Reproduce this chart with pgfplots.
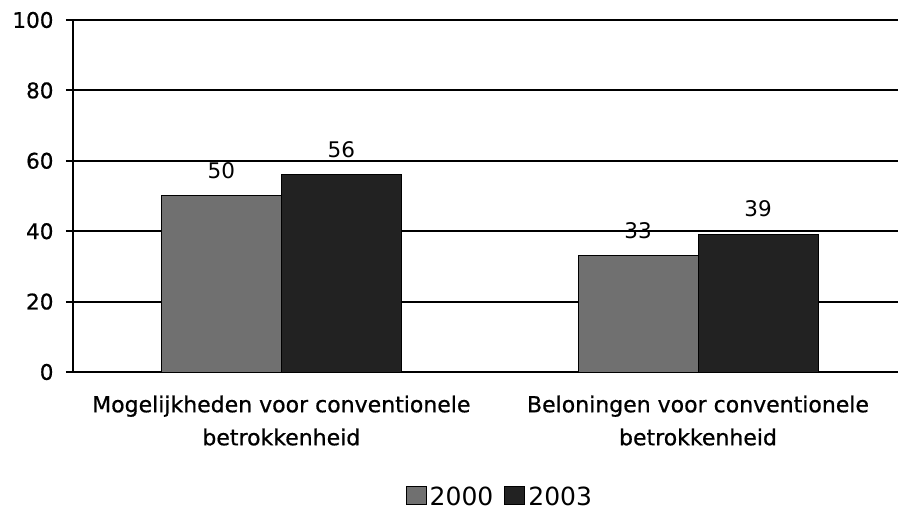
\documentclass[border=0pt]{standalone}
\usepackage{fontspec}
\setmainfont{DejaVu Sans}
\newfontfamily\semib[FakeBold=0.7]{DejaVu Sans}
\usepackage{pgfplots}
\pgfplotsset{compat=1.18}
\definecolor{c2000}{HTML}{707070}
\definecolor{c2003}{HTML}{222222}
\begin{document}
\begin{tikzpicture}
\path[use as bounding box] (0,0) rectangle (898bp,511bp);
\begin{axis}[
  at={(73bp,139bp)}, anchor=south west,
  scale only axis, width=825bp, height=352bp,
  ybar=0pt, bar width=120bp,
  xmin=-0.5, xmax=1.48, ymin=0, ymax=100,
  ytick={0,20,...,100},
  xtick={0,1},
  xticklabels={{Mogelijkheden voor conventionele\\betrokkenheid},{Beloningen voor conventionele\\betrokkenheid}},
  xticklabel style={align=center, font=\semib\fontsize{22bp}{33bp}\selectfont, yshift=-13bp},
  yticklabel style={font=\semib\fontsize{21.5bp}{26bp}\selectfont, xshift=-9bp},
  /pgf/number format/assume math mode=true,
  axis x line*=bottom, axis y line*=left,
  axis line style={line width=2bp, -},
  ymajorgrids, grid style={line width=2bp, black},
  major x tick style={draw=none},
  major tick length=7bp,
  ytick style={line width=2bp, black},
  extra x ticks={0.5}, extra x tick labels={},
  extra x tick style={major tick length=8bp, tick style={line width=2bp, black}, tick align=outside, grid=none},
  tick align=outside,
  nodes near coords,
  every node near coord/.append style={font=\fontsize{21.5bp}{26bp}\selectfont, anchor=south, inner sep=0pt, yshift=17bp},
  legend columns=2,
  legend style={at={(0.518,-0.355)}, anchor=center, draw=none, font=\fontsize{25bp}{28bp}\selectfont,
    inner sep=0pt, nodes={inner sep=3bp},
    /tikz/every even column/.append style={column sep=8bp}},
  legend image code/.code={\fill[#1] (-4bp,-8bp) rectangle (16bp,10bp);},
]
\addplot[fill=c2000, draw=black, line width=1bp] coordinates {(0,50) (1,33)};
\addplot[fill=c2003, draw=black, line width=1bp] coordinates {(0,56) (1,39)};
\legend{2000,2003}
\end{axis}
\end{tikzpicture}
\end{document}
